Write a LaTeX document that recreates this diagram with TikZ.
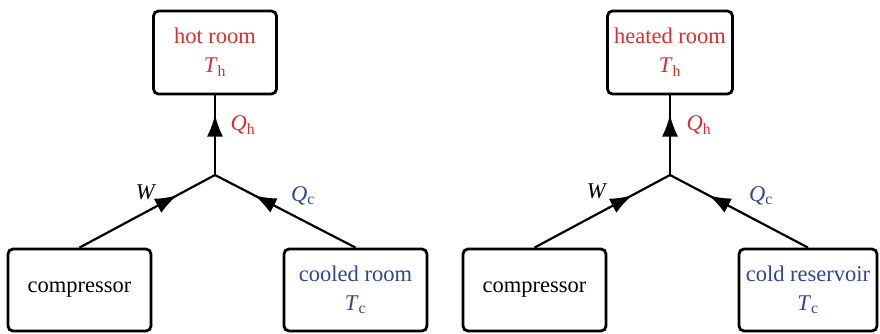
\documentclass[tikz,border=0pt]{standalone}
\usepackage{fontspec}
\setmainfont{Liberation Serif}
\usetikzlibrary{arrows.meta,decorations.markings}
\definecolor{hotred}{RGB}{222,45,45}
\definecolor{coldblue}{RGB}{45,70,155}
\tikzset{
  box/.style={draw=black, line width=2.8pt, rounded corners=5pt, align=center, inner sep=0pt},
  topbox/.style={box, minimum height=83pt},
  botbox/.style={box, minimum height=82pt},
  flow/.style={line width=2.2pt, postaction={decorate}},
  flowat/.style={decoration={markings, mark=at position #1 with {\arrow{Latex[length=22pt,width=16pt]}}}},
  lab/.style={inner sep=0pt}
}
\newcommand{\Tsub}[1]{\textit{T}\textsubscript{#1}}
\newcommand{\Qsub}[1]{\textit{Q}\textsubscript{#1}}
\begin{document}
\begin{tikzpicture}[x=1pt,y=-1pt]
\useasboundingbox (0,0) rectangle (880,333);
\fontsize{22.5}{29}\selectfont
% left diagram
\node[topbox, minimum width=123pt, text=hotred] (hot1) at (215,52.5) {hot room\\\Tsub{h}};
\node[botbox, minimum width=143pt] (comp1) at (79.5,290) {compressor};
\node[botbox, minimum width=143pt, text=coldblue] (cold1) at (355.5,290) {cooled room\\\Tsub{c}};
\coordinate (j1) at (215,175);
\draw[line width=2.2pt] (comp1.north) -- (j1) -- (cold1.north);
\draw[line width=2.2pt] (j1) -- (hot1.south);
\path[flow, flowat=0.72] (comp1.north) -- (j1);
\path[flow, flowat=0.72] (cold1.north) -- (j1);
\path[flow, flowat=0.76] (j1) -- (hot1.south);
\node[lab, text=hotred] (qh1) at (243,125) {\Qsub{h}};
\node[lab] (w1) at (146,192) {\textit{W}};
\node[lab, text=coldblue] (qc1) at (303,196) {\Qsub{c}};
% right diagram
\node[topbox, minimum width=125pt, text=hotred] (hot2) at (670,52.5) {heated room\\\Tsub{h}};
\node[botbox, minimum width=143pt] (comp2) at (534.5,290) {compressor};
\node[botbox, minimum width=138pt, text=coldblue] (cold2) at (808,290) {cold reservoir\\\Tsub{c}};
\coordinate (j2) at (670,175);
\draw[line width=2.2pt] (comp2.north) -- (j2) -- (cold2.north);
\draw[line width=2.2pt] (j2) -- (hot2.south);
\path[flow, flowat=0.72] (comp2.north) -- (j2);
\path[flow, flowat=0.72] (cold2.north) -- (j2);
\path[flow, flowat=0.76] (j2) -- (hot2.south);
\node[lab, text=hotred] (qh2) at (699,125) {\Qsub{h}};
\node[lab] (w2) at (597,191) {\textit{W}};
\node[lab, text=coldblue] (qc2) at (761,196) {\Qsub{c}};
\end{tikzpicture}
\end{document}
